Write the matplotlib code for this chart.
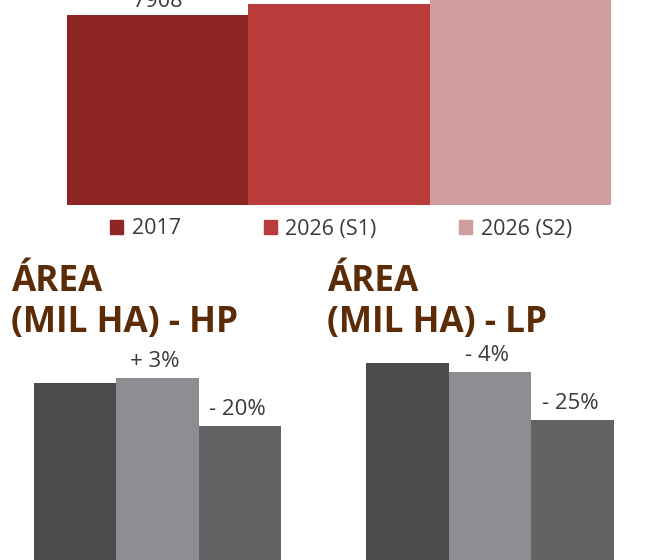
import matplotlib
matplotlib.use("Agg")
from matplotlib import pyplot as plt
from matplotlib.patches import Patch

plt.rcParams['font.family'] = ['Open Sans', 'DejaVu Sans']

# top chart (clipped in the source image)
top_series = ["2017", "2026 (S1)", "2026 (S2)"]
top_values = [7908, 8366, 9000]
top_colors = ["#8e2626", "#b83c3a", "#d09e9e"]

# area charts
hp_values = [2070, 2120, 1640]
hp_labels = ["", "+ 3%", "- 20%"]
lp_values = [2270, 2180, 1700]
lp_labels = ["", "- 4%", "- 25%"]
grey_colors = ["#4b4b4d", "#8d8e91", "#626365"]

title_color = "#5b2c06"
text_color = "#3a3a3a"

W, H = 659, 560
fig = plt.figure(figsize=(W / 100, H / 100), dpi=100)


def px_axes(x0, x1, y_bottom, height_px):
    """axes from pixel coords (y measured from top of image)"""
    return fig.add_axes([x0 / W, (H - y_bottom) / H, (x1 - x0) / W, height_px / H])


# ---- top bars ----
top_ymax = 10000
ax = px_axes(67, 611, 205, 190 * top_ymax / 7908)
xs = range(len(top_values))
bars = ax.bar(xs, top_values, width=1.0, color=top_colors)
for b, v in zip(bars, top_values):
    ax.annotate(str(v), (b.get_x() + b.get_width() / 2, v), xytext=(0, 2),
                textcoords="offset points", ha="center", va="bottom",
                fontsize=15.5, color=text_color)
ax.set_xlim(-0.5, len(top_values) - 0.5)
ax.set_ylim(0, top_ymax)
ax.axis("off")

handles = [Patch(color=c, label=s) for c, s in zip(top_colors, top_series)]
fig.legend(handles=handles, loc="center", bbox_to_anchor=(341 / W, (H - 229) / H),
           ncol=3, frameon=False, fontsize=15.5, handlelength=0.6, handleheight=0.6,
           handletextpad=0.4, columnspacing=3.85, labelcolor=text_color,
           borderpad=0, borderaxespad=0)

# ---- area charts ----
area_ymax = 2500


def area_chart(x0, x1, values, labels, title, title_x):
    a = px_axes(x0, x1, 590, 250)
    bs = a.bar(range(len(values)), values, width=1.0, color=grey_colors)
    for b, v, lab in zip(bs, values, labels):
        if lab:
            a.annotate(lab, (b.get_x() + b.get_width() / 2, v), xytext=(-2, 4),
                       textcoords="offset points", ha="center", va="bottom",
                       fontsize=16, color=text_color)
    a.set_xlim(-0.5, len(values) - 0.5)
    a.set_ylim(0, area_ymax)
    a.axis("off")
    fig.text(title_x / W, (H - 332) / H, title, ha="left", va="baseline",
             fontsize=25.3, fontweight="bold", color=title_color, linespacing=1.2)


area_chart(34, 281, hp_values, hp_labels, "ÁREA\n(MIL HA) - HP", 11)
area_chart(366, 614, lp_values, lp_labels, "ÁREA\n(MIL HA) - LP", 327)

fig.savefig("out.png", dpi=100)
